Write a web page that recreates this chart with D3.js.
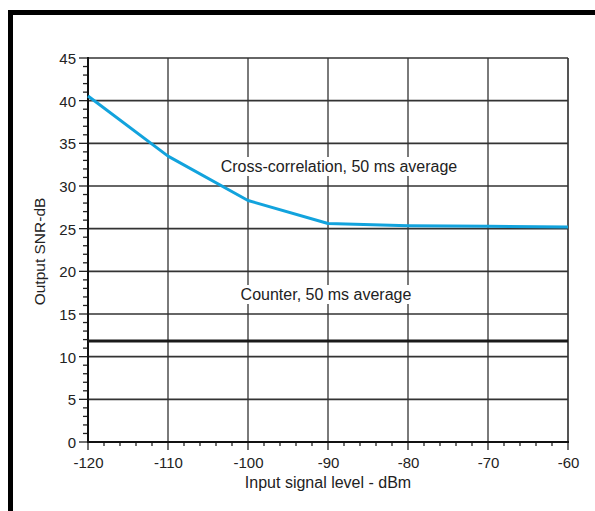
<!DOCTYPE html>
<html><head><meta charset="utf-8">
<script src="https://cdn.jsdelivr.net/npm/d3@7"></script>
<style>body{margin:0;background:#fff}svg{display:block}text{font-family:"Liberation Sans",Arial,sans-serif;fill:#222}</style>
</head><body><svg id="c" width="595" height="511"></svg>
<script>
const xValues = [-120, -110, -100, -90, -80, -70, -60];
const crossCorr = [40.55, 33.5, 28.3, 25.6, 25.35, 25.27, 25.2];
const counterLevel = 11.85;
const xTicks = [-120, -110, -100, -90, -80, -70, -60];
const yTicks = [0, 5, 10, 15, 20, 25, 30, 35, 40, 45];
const labels = {cross: "Cross-correlation, 50 ms average", counter: "Counter, 50 ms average", x: "Input signal level - dBm", y: "Output SNR-dB"};

const FONT = '"Liberation Sans",Arial,sans-serif';
const svg = d3.select("#c");
const x = d3.scaleLinear().domain([-120, -60]).range([88, 568]);
const y = d3.scaleLinear().domain([0, 45]).range([442, 58]);

// frame
svg.append("rect").attr("x", 8).attr("y", 10).attr("width", 600).attr("height", 5).attr("fill", "#000");
svg.append("rect").attr("x", 8).attr("y", 10).attr("width", 5).attr("height", 520).attr("fill", "#000");

// vertical grid
svg.append("g").selectAll("line").data(xTicks.slice(1)).join("line")
  .attr("x1", d => x(d)).attr("x2", d => x(d)).attr("y1", y(45)).attr("y2", y(0))
  .attr("stroke", d => d === -60 ? "#555" : "#7a7a7a").attr("stroke-width", 2);
// horizontal grid
svg.append("g").selectAll("line").data(yTicks.slice(1)).join("line")
  .attr("x1", x(-120)).attr("x2", x(-60)).attr("y1", d => y(d)).attr("y2", d => y(d))
  .attr("stroke", "#333").attr("stroke-width", 1.6);

// x axis
const xMinor = d3.range(-120, -59, 2);
svg.append("g").selectAll("line").data(xMinor).join("line")
  .attr("x1", d => x(d)).attr("x2", d => x(d)).attr("y1", y(0))
  .attr("y2", d => y(0) + (d % 10 === 0 ? 8 : 4))
  .attr("stroke", "#222").attr("stroke-width", 1.3);
const xAxis = d3.axisBottom(x).tickValues(xTicks).tickSize(0).tickPadding(0).tickFormat(d => String(d));
const gx = svg.append("g").attr("transform", `translate(0,${y(0)})`).call(xAxis);
gx.select(".domain").remove();
gx.selectAll("text").attr("dy", null).attr("y", 25.5).attr("font-size", 15).attr("fill", "#222")
  .style("font-family", FONT);
svg.append("line").attr("x1", x(-120) - 1).attr("x2", x(-60) + 1).attr("y1", y(0)).attr("y2", y(0))
  .attr("stroke", "#111").attr("stroke-width", 2);

// y axis
const yMinor = d3.range(0, 46, 1);
svg.append("g").selectAll("line").data(yMinor).join("line")
  .attr("y1", d => y(d)).attr("y2", d => y(d)).attr("x2", x(-120))
  .attr("x1", d => x(-120) - (d % 5 === 0 ? 9 : 5))
  .attr("stroke", "#222").attr("stroke-width", 1.3);
const yAxis = d3.axisLeft(y).tickValues(yTicks).tickSize(0).tickPadding(12).tickFormat(d => String(d));
const gy = svg.append("g").attr("transform", `translate(${x(-120)},0)`).call(yAxis);
gy.select(".domain").remove();
gy.selectAll("text").attr("font-size", 15).attr("fill", "#222").attr("dy", "0.36em")
  .style("font-family", FONT);
svg.append("line").attr("x1", x(-120)).attr("x2", x(-120)).attr("y1", y(45) - 1).attr("y2", y(0) + 1)
  .attr("stroke", "#111").attr("stroke-width", 2);

// counter line
svg.append("line").attr("x1", x(-120)).attr("x2", x(-60)).attr("y1", y(counterLevel)).attr("y2", y(counterLevel))
  .attr("stroke", "#1a1a1a").attr("stroke-width", 3);

// cross-correlation line
const line = d3.line().x((d, i) => x(xValues[i])).y(d => y(d));
svg.append("path").datum(crossCorr).attr("d", line).attr("fill", "none")
  .attr("stroke", "#12a3dd").attr("stroke-width", 3).attr("stroke-linejoin", "round");

// annotations with white backing
function note(cx, by, txt) {
  const g = svg.append("g");
  const t = g.append("text").attr("x", cx).attr("y", by).attr("text-anchor", "middle").attr("font-size", 16).text(txt);
  const b = t.node().getBBox();
  g.insert("rect", "text").attr("x", b.x - 3).attr("y", b.y - 1).attr("width", b.width + 6).attr("height", b.height + 2).attr("fill", "#fff");
}
note(339, 172, labels.cross);
note(326, 300, labels.counter);

// titles
svg.append("text").attr("x", 328).attr("y", 488).attr("text-anchor", "middle").attr("font-size", 16).text(labels.x);
svg.append("text").attr("transform", "translate(44.5,251.5) rotate(-90)").attr("text-anchor", "middle").attr("font-size", 15.5).text(labels.y);
</script></body></html>
